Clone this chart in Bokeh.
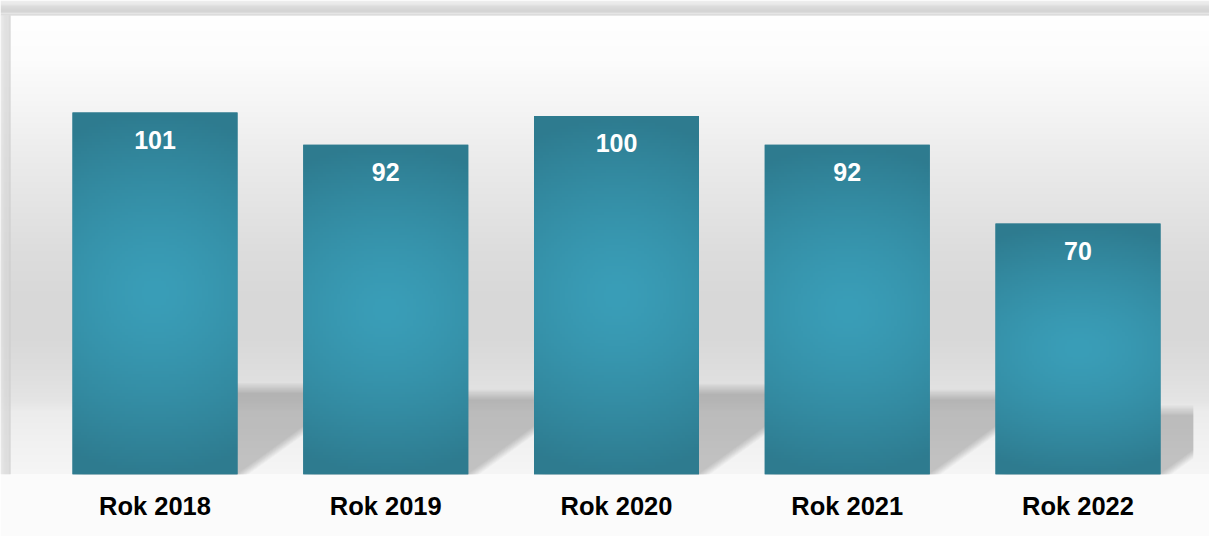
import numpy as np
from bokeh.plotting import figure
from bokeh.models import Range1d, FixedTicker, ColumnDataSource, BoxAnnotation
from bokeh.embed import file_html
from bokeh.resources import INLINE
from bokeh.core.properties import value

# ---- data ----
categories = ["Rok 2018", "Rok 2019", "Rok 2020", "Rok 2021", "Rok 2022"]
values = [101, 92, 100, 92, 70]

# ---- layout ----
W, H = 1209, 536
FRAME_H = 474
BOTTOM = H - FRAME_H
PX_X = 230.75
X0 = -154.5 / PX_X
X1 = X0 + W / PX_X
PX_Y = 3.584
YMAX = FRAME_H / PX_Y
BAR_W = 0.715

p = figure(width=W, height=H, x_range=Range1d(X0, X1), y_range=Range1d(0, YMAX),
           output_backend="svg", toolbar_location=None,
           min_border_left=0, min_border_right=0, min_border_top=0,
           min_border_bottom=BOTTOM, y_axis_location=None)
p.outline_line_color = None
p.border_fill_color = "#fbfbfb"
p.background_fill_color = "#ffffff"
p.xgrid.visible = False
p.ygrid.visible = False


def rgba(r, g, b, a=255):
    return (a << 24) | (b << 16) | (g << 8) | r


# ---- background wall gradient (decoration) ----
ref_y = np.arange(0, FRAME_H)
sy = [0, 3, 5, 9, 11, 12, 13, 14, 15, 60, 100, 150, 200, 250, 300, 340, 380, 400, 410, 440, 474]
sv = [238, 234, 222, 213, 213, 226, 232, 208, 255, 252, 246, 237, 229, 221, 216, 217, 224, 229, 236, 241, 246]
gv = np.interp(ref_y, sy, sv).astype(np.uint32)
bg = np.zeros((FRAME_H, 4), dtype=np.uint32)
for i, g in enumerate(gv):
    bg[FRAME_H - 1 - i, :] = rgba(int(g), int(g), int(g))
p.image_rgba(image=[bg], x=X0, y=0, dw=X1 - X0, dh=YMAX)

# left frame edge
edge_cols = ["#e6e6e6", "#e2e2e2", "#dedede", "#dbdbdb", "#d8d8d8",
             "#d7d7d7", "#d6d6d6", "#d8d8d8", "#d4d4d4", "#cbcbcb"]
for k, c in enumerate(edge_cols):
    p.add_layout(BoxAnnotation(left=X0 + k / PX_X, right=X0 + (k + 1) / PX_X,
                               bottom=0, top=YMAX - 15 / PX_Y,
                               fill_color=c, fill_alpha=1, line_color=None))

# ---- perspective shadows ----
XCLIP = len(categories) - 0.5


def clip_poly(xs, ys, xc):
    out_x, out_y = [], []
    n = len(xs)
    for k in range(n):
        ax_, ay = xs[k], ys[k]
        bx, by = xs[(k + 1) % n], ys[(k + 1) % n]
        ain, bin_ = ax_ <= xc, bx <= xc
        if ain:
            out_x.append(ax_); out_y.append(ay)
        if ain != bin_:
            t = (xc - ax_) / (bx - ax_)
            out_x.append(xc); out_y.append(ay + t * (by - ay))
    return out_x, out_y


SLOPE = 1.45
layers = np.linspace(-5, 5, 9)
sh_xs, sh_ys = [], []
for i, v in enumerate(values):
    hpx = v * PX_Y
    spx = 0.2 * hpx + 14
    for d in layers:
        top = (spx + d) / PX_Y
        shift = SLOPE * (spx + d) / PX_X
        extra = d * 1.2 / PX_X
        xl = i - BAR_W / 2 - extra
        xr = i + BAR_W / 2 + extra
        xs = [xl, xr, xr + shift, xl + shift]
        ys = [-1, -1, top, top]
        cx, cy = clip_poly(xs, ys, XCLIP)
        sh_xs.append(cx); sh_ys.append(cy)
p.patches(sh_xs, sh_ys, fill_color="black", fill_alpha=0.022, line_color=None)

# ---- bars ----
src = ColumnDataSource(dict(x=list(range(len(values))), top=values, cat=categories,
                            lab=[str(v) for v in values]))
p.vbar(x="x", top="top", width=BAR_W, bottom=0, source=src,
       fill_color="#2e7c90", line_color=None)

# radial gradient overlay per bar
NY, NX = 120, 60
yy, xx = np.mgrid[0:NY, 0:NX]
dx = (xx + 0.5) / NX - 0.5
dy = (yy + 0.5) / NY - 0.5
t = np.sqrt((dx * 0.9) ** 2 + (dy * 2.0) ** 2)
t = np.clip(t, 0, 1) ** 1.4
c_in = np.array([58, 158, 184])
c_out = np.array([46, 123, 143])
col = c_in[None, None, :] * (1 - t[..., None]) + c_out[None, None, :] * t[..., None]
col = col.astype(np.uint32)
img = (255 << 24) | (col[..., 2] << 16) | (col[..., 1] << 8) | col[..., 0]
img = img.astype(np.uint32)
imgs = [img for _ in values]
p.image_rgba(image=imgs, x=[i - BAR_W / 2 for i in range(len(values))], y=0,
             dw=BAR_W, dh=values)

# ---- value labels ----
p.text(x="x", y="top", text="lab", source=src, text_color="white",
       text_font=value("Liberation Sans"), text_font_style="bold",
       text_font_size="25px", text_align="center", text_baseline="middle",
       y_offset=27)

# ---- axis ----
ax = p.xaxis[0]
ax.ticker = FixedTicker(ticks=list(range(len(categories))))
ax.major_label_overrides = {i: c for i, c in enumerate(categories)}
ax.axis_line_color = None
ax.major_tick_line_color = None
ax.minor_tick_line_color = None
ax.major_tick_out = 0
ax.major_tick_in = 0
ax.major_label_standoff = 17
ax.major_label_text_font = "Liberation Sans"
ax.major_label_text_font_style = "bold"
ax.major_label_text_font_size = "25.5px"
ax.major_label_text_color = "#000000"

open("out.html", "w").write(file_html(p, INLINE))
